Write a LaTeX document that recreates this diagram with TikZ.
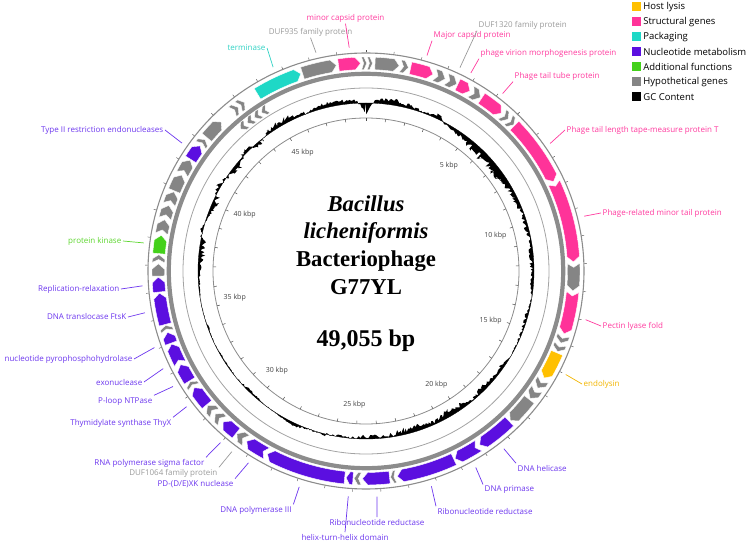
\documentclass[tikz,border=0pt]{standalone}
\usepackage{fontspec}
\usetikzlibrary{positioning}
\newfontfamily\lblfont{Open Sans}
\newfontfamily\ttlfont{Liberation Serif}
\definecolor{cLysis}{HTML}{FFC000}
\definecolor{cStruct}{HTML}{FF3399}
\definecolor{cPack}{HTML}{1ED8C6}
\definecolor{cNuc}{HTML}{5B0FE0}
\definecolor{cAdd}{HTML}{44D11B}
\definecolor{cHyp}{HTML}{858585}
\definecolor{cRing}{HTML}{8C8C8C}
\definecolor{cLysisT}{HTML}{F2B500}
\definecolor{cStructT}{HTML}{FF3A9E}
\definecolor{cPackT}{HTML}{30D2C4}
\definecolor{cNucT}{HTML}{6C36EE}
\definecolor{cAddT}{HTML}{5CD62E}
\definecolor{cHypT}{HTML}{9A9A9A}

% one gene arrow: from, to (tip), colour, inner r, outer r, notch (0/1)
\newcommand{\gene}[6]{%
  \pgfmathsetmacro{\gdir}{(#2>#1) ? 1 : -1}%
  \pgfmathsetmacro{\gtip}{\gdir*min(1.5,0.55*abs(#2-#1))}%
  \pgfmathsetmacro{\gnot}{\gdir*#6*min(1.1,0.4*abs(#2-#1))}%
  \pgfmathsetmacro{\gmid}{(#4+#5)/2}%
  \fill[fill=#3, draw=white, line width=0.4pt]
    ({90-#1}:#4) arc[start angle={90-#1}, end angle={90-#2+\gtip}, radius=#4]
    -- ({90-#2}:\gmid) -- ({90-#2+\gtip}:#5)
    arc[start angle={90-#2+\gtip}, end angle={90-#1}, radius=#5]
    -- ({90-#1-\gnot}:\gmid) -- cycle;}
\newcommand{\fwdgene}[4]{\gene{#1}{#2}{#3}{201.5}{214}{#4}}
\newcommand{\revgene}[3]{\gene{#1}{#2}{#3}{185}{194.5}{1}}

\begin{document}
\begin{tikzpicture}[x=1pt, y=1pt,
  lbl/.style={font=\lblfont\fontsize{8}{9.6}\selectfont, inner sep=1.5pt},
  lead/.style={line width=0.7pt},
  kbp/.style={font=\lblfont\fontsize{7}{8}\selectfont, text=black!75, inner sep=0pt},
  sctick/.style={black!70, line width=0.5pt},
  ctr/.style={anchor=base, inner sep=0pt, font=\ttlfont\bfseries\fontsize{22.7}{27}\selectfont},
  ctri/.style={ctr, font=\ttlfont\bfseries\itshape\fontsize{22.7}{27}\selectfont},
  legbox/.style={minimum size=9, inner sep=0pt},
  legtxt/.style={font=\lblfont\fontsize{9.5}{11}\selectfont, inner sep=0.5pt, anchor=west}]
\useasboundingbox (-366,-274) rectangle (385,271);

% GC content
\pgfmathsetseed{11}
\def\gcm{{1,4,5,3,1,3,-2,-4,-6,-7,-6,-7,-3,-4,-2,-3,-2,-3,-2,-2,-1,-2,-1,-1,0,-3,-2,-5,-1,-5,-6,-2,-4,-5,-3,-2,-3,0,-2,1,0,3,1,0,-1,-2,0,-1,-1,0,-1,0,0,-1,-2,-4,-3,1,-2,-5,4,-3,-4,4,-3,3,5,3,1,4,4,3,1}}
\def\gcs{{1,2,2,1.5,1,3,2,3,5,5,5,4,3,3,2,2,2,2,1.5,1.5,1.5,2,1.5,1,1,2,2,3,1.5,3,3,2,3,3,3,2,2,1,2,1,1,1,1,1,0.8,1.5,0.7,0.6,0.6,0.6,0.6,0.5,0.5,0.7,1.5,3,3,1,2,4,4,4,4,3,3,3,3,2,1,2,2,1.5,1}}
\fill[black, even odd rule] (0,0) circle[radius=168] (90:168)
  \foreach \t in {0,0.5,...,359.5} {
    -- ({90-\t}:{168+\gcm[int(\t/5)]*(1-(\t-5*int(\t/5))/5)+\gcm[int(\t/5)+1]*(\t-5*int(\t/5))/5+\gcs[int(\t/5)]*rand-12*max(0,1-min(\t,360-\t)/3)})
  } -- cycle;
\draw[black, line width=0.3pt] (0,0) circle[radius=168];

% rings
\draw[cRing, line width=0.8pt] (0,0) circle[radius=153];
\draw[cRing!80, line width=0.8pt] (0,0) circle[radius=183];
\draw[cRing, line width=4.2pt] (0,0) circle[radius=197.2];
\draw[cRing, line width=1.1pt] (0,0) circle[radius=218];
\foreach \k in {0,...,48} {
  \draw[sctick] ({90-\k*7.3387}:153) -- ({90-\k*7.3387}:150);
  \draw[sctick, line width=0.4pt] ({90-\k*7.3387}:218.5) -- ({90-\k*7.3387}:221);
}
\foreach \k in {5,10,...,45}
  \node[kbp] (s\k) at ({90-\k*7.3387-1.5}:134) {\k\ kbp};

% genes, forward strand
\foreach \a/\b/\c/\n in {328.5/341.7/cPack/0, 342.2/351.8/cHyp/0, 352.4/358.5/cStruct/0,
    358.8/360.2/cHyp/1, 360.4/361.8/cHyp/1, 2.5/9.2/cHyp/0, 9.5/11.8/cHyp/1,
    12.4/18.8/cStruct/0, 19.2/22.4/cHyp/1, 22.7/25.9/cHyp/1, 26.2/30.0/cStruct/0,
    30.3/33.4/cHyp/1, 33.8/40.6/cStruct/0, 41.0/43.1/cHyp/1, 43.3/45.3/cHyp/1,
    45.6/64.5/cStruct/0, 64.8/87.5/cStruct/1, 87.9/95.5/cHyp/1, 95.8/107.6/cStruct/1,
    108.0/110.3/cHyp/1, 110.6/112.8/cHyp/1, 113.2/121.0/cLysis/0, 121.5/124.3/cHyp/1,
    124.6/127.8/cHyp/1, 128.2/136.0/cHyp/0, 136.4/146.8/cNuc/0, 147.2/154.6/cNuc/1,
    155.0/171.3/cNuc/0, 171.7/173.2/cHyp/1, 173.5/181.0/cNuc/0, 181.3/183.3/cHyp/1,
    183.6/185.5/cNuc/0, 185.9/208.3/cNuc/0, 208.6/215.0/cNuc/1, 215.3/218.4/cHyp/1,
    218.7/223.4/cNuc/0, 223.8/226.5/cHyp/1, 226.8/229.7/cHyp/1, 230.0/235.8/cNuc/0,
    236.1/237.8/cHyp/1, 238.1/243.2/cNuc/0, 243.5/249.4/cNuc/1, 249.7/252.8/cNuc/0,
    253.1/254.8/cHyp/1, 255.1/263.9/cNuc/0, 264.2/268.3/cNuc/0, 268.6/272.0/cHyp/0,
    272.3/274.5/cHyp/1, 274.8/279.9/cAdd/0, 280.3/284.3/cHyp/1, 284.6/288.4/cHyp/1,
    288.7/292.4/cHyp/1, 292.7/297.5/cHyp/0, 297.8/302.2/cHyp/1, 302.5/307.0/cNuc/0,
    307.3/309.2/cHyp/1, 310.0/315.8/cHyp/0, 320.0/322.0/cHyp/1, 322.2/324.2/cHyp/1}
  \fwdgene{\a}{\b}{\c}{\n};
% reverse strand
\foreach \a/\b in {321.0/318.5, 323.7/321.3, 326.3/324.0, 328.8/326.6}
  \revgene{\a}{\b}{cHyp};

% centre title
\node[ctri] (tGenus) at (0,59) {Bacillus};
\node[ctri] (tSpecies) at (0,32.5) {licheniformis};
\node[ctr] (tPhage) at (0,4.5) {Bacteriophage};
\node[ctr] (tName) at (0,-24) {G77YL};
\node[ctr, font=\ttlfont\bfseries\fontsize{24}{28}\selectfont] (tSize) at (0,-76) {49,055 bp};

% labels
\coordinate (pMinorCap) at (94.3:224);
\coordinate (pDUF935) at (102.9:224);
\coordinate (pTerm) at (114.5:224);
\coordinate (pMajorCap) at (74.2:224);
\coordinate (pDUF1320) at (65.2:224);
\coordinate (pVirion) at (62.1:224);
\coordinate (pTube) at (52.4:224);
\coordinate (pTape) at (34.7:224);
\coordinate (pMinorTail) at (14.1:225);
\coordinate (pPectin) at (-12.5:225);
\coordinate (pEndo) at (-27.4:225);
\coordinate (pHelicase) at (-52.2:225);
\coordinate (pPrimase) at (-60.8:225);
\coordinate (pRnrA) at (-73.1:225);
\coordinate (pRnrB) at (-87.2:226);
\coordinate (pHTH) at (-94.5:226);
\coordinate (pPolIII) at (-107.2:226);
\coordinate (pPDX) at (-121.5:225);
\coordinate (pDUF1064) at (-126.6:225);
\coordinate (pSigma) at (-130.3:225);
\coordinate (pThyX) at (-142.9:225);
\coordinate (pPloop) at (-149.1:225);
\coordinate (pExo) at (-154.3:225);
\coordinate (pNpp) at (-160.1:225);
\coordinate (pFtsK) at (-169.3:225);
\coordinate (pRepl) at (-176.2:224);
\coordinate (pKinase) at (172.8:224);
\coordinate (pTypeII) at (145.2:224);

\node[lbl, text=cStructT] (lMinorCap) at (-20.5,253) {minor capsid protein};
\node[lbl, text=cHypT] (lDUF935) at (-55.5,239) {DUF935 family protein};
\node[lbl, text=cPackT] (lTerm) at (-119.5,223) {terminase};
\node[lbl, text=cHypT, anchor=west] (lDUF1320) at (111,246) {DUF1320 family protein};
\node[lbl, text=cStructT, anchor=west] (lMajorCap) at (66,236) {Major capsid protein};
\node[lbl, text=cStructT, anchor=west] (lVirion) at (113,218) {phage virion morphogenesis protein};
\node[lbl, text=cStructT, anchor=west] (lTube) at (147,195) {Phage tail tube protein};
\node[lbl, text=cStructT, anchor=west] (lTape) at (199,141) {Phage tail length tape-measure protein T};
\node[lbl, text=cStructT, anchor=west] (lMinorTail) at (235,58) {Phage-related minor tail protein};
\node[lbl, text=cStructT, anchor=west] (lPectin) at (235,-55) {Pectin lyase fold};
\node[lbl, text=cLysisT, anchor=west] (lEndo) at (216,-113) {endolysin};
\node[lbl, text=cNucT, anchor=west] (lHelicase) at (150,-197) {DNA helicase};
\node[lbl, text=cNucT, anchor=west] (lPrimase) at (117,-219) {DNA primase};
\node[lbl, text=cNucT, anchor=west] (lRnrA) at (70,-240) {Ribonucleotide reductase};
\node[lbl, text=cNucT] (lRnrB) at (11,-251) {Ribonucleotide reductase};
\node[lbl, text=cNucT] (lHTH) at (-21,-266) {helix-turn-helix domain};
\node[lbl, text=cNucT] (lPolIII) at (-110,-239) {DNA polymerase III};
\node[lbl, text=cNucT] (lPDX) at (-170.5,-213) {PD-(D/E)XK nuclease};
\node[lbl, text=cHypT, anchor=east] (lDUF1064) at (-147,-202) {DUF1064 family protein};
\node[lbl, text=cNucT, anchor=east] (lSigma) at (-160,-192) {RNA polymerase sigma factor};
\node[lbl, text=cNucT, anchor=east] (lThyX) at (-193,-152) {Thymidylate synthase ThyX};
\node[lbl, text=cNucT, anchor=east] (lPloop) at (-212,-130) {P-loop NTPase};
\node[lbl, text=cNucT, anchor=east] (lExo) at (-222,-111) {exonuclease};
\node[lbl, text=cNucT, anchor=east] (lNpp) at (-232,-88) {nucleotide pyrophosphohydrolase};
\node[lbl, text=cNucT, anchor=east] (lFtsK) at (-238,-46) {DNA translocase FtsK};
\node[lbl, text=cNucT, anchor=east] (lRepl) at (-245,-18) {Replication-relaxation};
\node[lbl, text=cAddT, anchor=east] (lKinase) at (-243,30) {protein kinase};
\node[lbl, text=cNucT, anchor=east] (lTypeII) at (-201,141) {Type II restriction endonucleases};

\draw[lead, cStructT] (lMinorCap.south) -- (pMinorCap);
\draw[lead, cHypT] (lDUF935.south) -- (pDUF935);
\draw[lead, cPackT] (lTerm.east) -- (pTerm);
\draw[lead, cHypT] (lDUF1320.south west) -- (pDUF1320);
\draw[lead, cStructT] (lMajorCap.south west) -- (pMajorCap);
\draw[lead, cStructT] (lVirion.south west) -- (pVirion);
\draw[lead, cStructT] (lTube.south west) -- (pTube);
\draw[lead, cStructT] (lTape.west) -- (pTape);
\draw[lead, cStructT] (lMinorTail.west) -- (pMinorTail);
\draw[lead, cStructT] (lPectin.west) -- (pPectin);
\draw[lead, cLysisT] (lEndo.west) -- (pEndo);
\draw[lead, cNucT] (lHelicase.north west) -- (pHelicase);
\draw[lead, cNucT] (lPrimase.north west) -- (pPrimase);
\draw[lead, cNucT] (lRnrA.north west) -- (pRnrA);
\draw[lead, cNucT] (lRnrB.north) -- (pRnrB);
\draw[lead, cNucT] (lHTH.north) -- (pHTH);
\draw[lead, cNucT] (lPolIII.north east) -- (pPolIII);
\draw[lead, cNucT] (lPDX.north east) -- (pPDX);
\draw[lead, cHypT] (lDUF1064.north east) -- (pDUF1064);
\draw[lead, cNucT] (lSigma.north east) -- (pSigma);
\draw[lead, cNucT] (lThyX.north east) -- (pThyX);
\draw[lead, cNucT] (lPloop.north east) -- (pPloop);
\draw[lead, cNucT] (lExo.east) -- (pExo);
\draw[lead, cNucT] (lNpp.east) -- (pNpp);
\draw[lead, cNucT] (lFtsK.east) -- (pFtsK);
\draw[lead, cNucT] (lRepl.east) -- (pRepl);
\draw[lead, cAddT] (lKinase.east) -- (pKinase);
\draw[lead, cNucT] (lTypeII.east) -- (pTypeII);

% legend
\foreach \c/\t [count=\i] in {cLysis/Host lysis, cStruct/Structural genes, cPack/Packaging,
    cNuc/Nucleotide metabolism, cAdd/Additional functions, cHyp/Hypothetical genes, black/GC Content} {
  \node[legbox, fill=\c] (key\i) at (270.5,{279-15*\i}) {};
  \node[legtxt, right=1.5pt of key\i] (keyt\i) {\t};
}
\end{tikzpicture}
\end{document}
